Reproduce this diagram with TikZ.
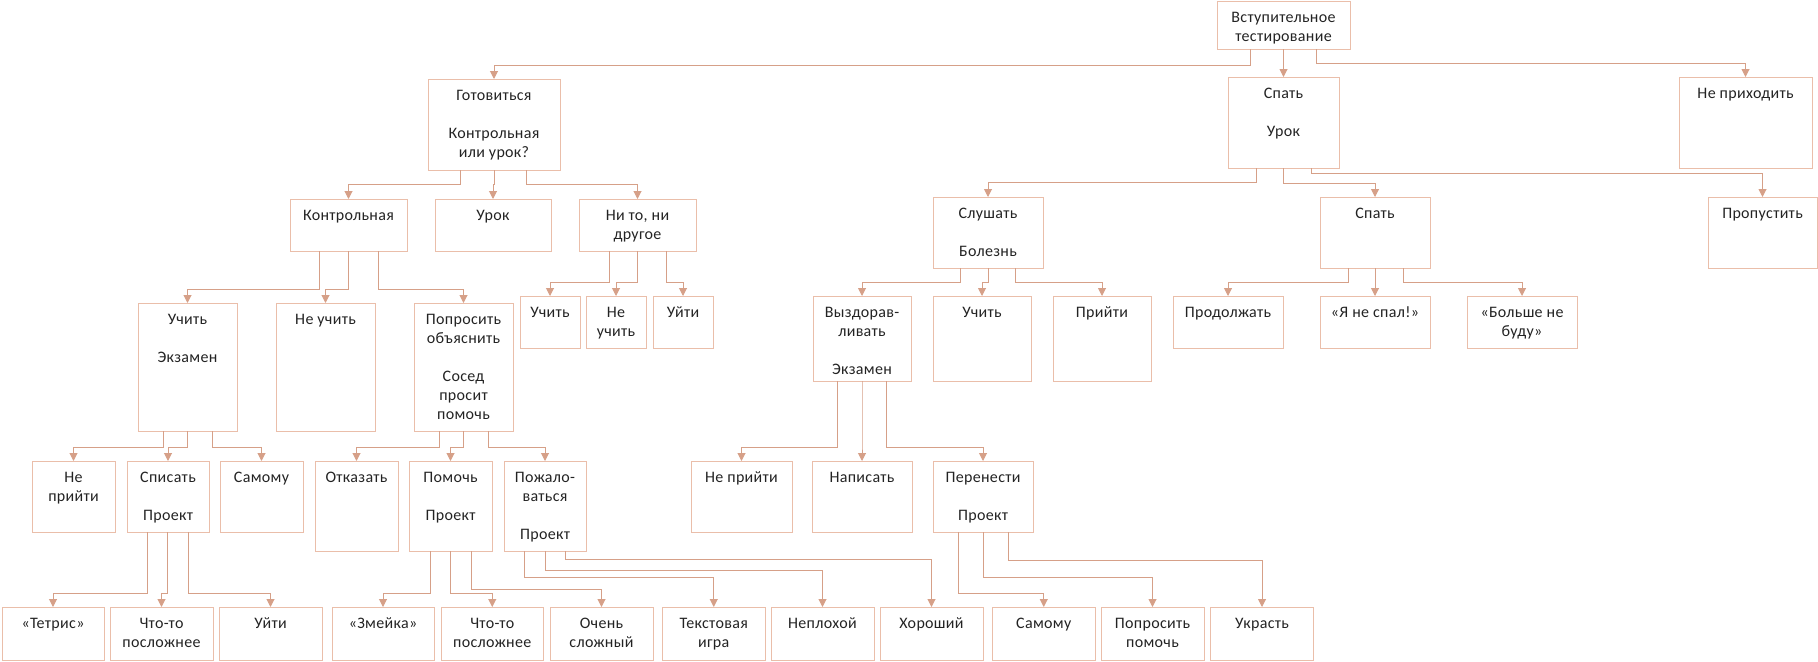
\documentclass[tikz,border=0pt]{standalone}
\usepackage{fontspec}
\setmainfont[LetterSpace=2]{Carlito}
\usetikzlibrary{arrows.meta}

\definecolor{boxcol}{RGB}{234,190,170}
\definecolor{linkcol}{RGB}{214,160,136}
\definecolor{inkcol}{RGB}{35,35,35}

\newcommand\boxfont{\fontsize{12pt}{14.25pt}\selectfont\hyphenpenalty=10000 }
\newcommand\blankln{\\[14.25pt]}

% box: name, left, top, right, bottom (in px), text (top aligned)
\newcommand\bx[6]{%
  \node[box, anchor=north west] (#1) at (#2,#3)
    {\parbox[c][\dimexpr(#5pt-#3pt)*3/4\relax][t]{\dimexpr(#4pt-#2pt)*3/4\relax}%
      {\centering\rule{0pt}{15.9pt}#6\par}};}

% elbow connector: parent, x of the drop, y of the horizontal run, child
\newcommand\link[4]{%
  \path (#2,#3) coordinate (jn);
  \draw[link] (#1.south -| jn) |- (jn -| #4.north) -- (#4.north);}

\tikzset{
  box/.style={draw=boxcol, line width=0.75pt, inner sep=0pt, outer sep=0pt,
    rectangle, font=\boxfont, text=inkcol},
  link/.style={draw=linkcol, line width=0.75pt, line join=miter,
    -{Triangle[width=6pt,length=6pt,fill=linkcol]}},
}

\begin{document}
\begin{tikzpicture}[x=0.75pt, y=-0.75pt]
\useasboundingbox (0,0) rectangle (1818,661);

% level 0
\bx{vt}{1217}{1}{1350}{49}{Вступительное\\тестирование}

% level 1
\bx{gotov}{428}{79}{560}{170}{Готовиться\blankln Контрольная\\или урок?}
\bx{spat1}{1228}{77}{1339}{168}{Спать\blankln Урок}
\bx{nepri}{1679}{77}{1812}{168}{Не приходить}

% level 2
\bx{kontr}{290}{199}{407}{251}{Контрольная}
\bx{urok}{435}{199}{551}{251}{Урок}
\bx{nito}{579}{199}{696}{251}{Ни то, ни\\другое}
\bx{slush}{933}{197}{1043}{268}{Слушать\blankln Болезнь}
\bx{spat2}{1320}{197}{1430}{268}{Спать}
\bx{propu}{1708}{197}{1817}{268}{Пропустить}

% level 3
\bx{uchit}{138}{303}{237}{431}{Учить\blankln Экзамен}
\bx{neuch}{276}{303}{375}{431}{Не учить}
\bx{popro}{414}{303}{513}{431}{Попросить\\объяснить\blankln Сосед\\просит\\помочь}
\bx{uchitb}{520}{296}{580}{348}{Учить}
\bx{neuchb}{586}{296}{646}{348}{Не\\учить}
\bx{uytia}{653}{296}{713}{348}{Уйти}
\bx{vyzd}{813}{296}{911}{381}{Выздорав-\\ливать\blankln Экзамен}
\bx{uchitc}{933}{296}{1031}{381}{Учить}
\bx{priyti}{1053}{296}{1151}{381}{Прийти}
\bx{prodol}{1173}{296}{1283}{348}{Продолжать}
\bx{yanes}{1320}{296}{1430}{348}{«Я не спал!»}
\bx{bolsh}{1467}{296}{1577}{348}{«Больше не\\буду»}

% level 4
\bx{nepra}{32}{461}{115}{532}{Не\\прийти}
\bx{spis}{127}{461}{209}{532}{Списать\blankln Проект}
\bx{samoa}{220}{461}{303}{532}{Самому}
\bx{otka}{315}{461}{398}{551}{Отказать}
\bx{pomo}{409}{461}{492}{551}{Помочь\blankln Проект}
\bx{pozh}{504}{461}{586}{551}{Пожало-\\ваться\blankln Проект}
\bx{neprb}{691}{461}{792}{532}{Не прийти}
\bx{napi}{812}{461}{912}{532}{Написать}
\bx{pere}{933}{461}{1033}{532}{Перенести\blankln Проект}

% level 5
\bx{tetr}{2}{607}{104}{660}{«Тетрис»}
\bx{chtoa}{110}{607}{213}{660}{Что-то\\посложнее}
\bx{uytib}{219}{607}{322}{660}{Уйти}
\bx{zmey}{332}{607}{434}{660}{«Змейка»}
\bx{chtob}{441}{607}{543.5}{660}{Что-то\\посложнее}
\bx{ochen}{550}{607}{653}{660}{Очень\\сложный}
\bx{tekst}{662.5}{607}{765}{660}{Текстовая\\игра}
\bx{nepl}{771}{607}{874}{660}{Неплохой}
\bx{horo}{880}{607}{983}{660}{Хороший}
\bx{samob}{992.5}{607}{1095}{660}{Самому}
\bx{poprb}{1101}{607}{1204}{660}{Попросить\\помочь}
\bx{ukra}{1210.5}{607}{1313.5}{660}{Украсть}

% connectors
\link{vt}{1250.6}{65}{gotov}
\link{vt}{1283.5}{63}{spat1}
\link{vt}{1316.6}{63}{nepri}

\link{gotov}{460}{184}{kontr}
\link{gotov}{494}{184}{urok}
\link{gotov}{526}{184}{nito}

\link{spat1}{1256.5}{182}{slush}
\link{spat1}{1283}{183}{spat2}
\link{spat1}{1311}{173}{propu}

\link{kontr}{319}{289}{uchit}
\link{kontr}{348.6}{289}{neuch}
\link{kontr}{378}{289}{popro}

\link{nito}{609}{282}{uchitb}
\link{nito}{637.5}{282}{neuchb}
\link{nito}{666}{282}{uytia}

\link{slush}{960.5}{282}{vyzd}
\link{slush}{988}{282}{uchitc}
\link{slush}{1015}{282}{priyti}

\link{spat2}{1348}{282}{prodol}
\link{spat2}{1375}{282}{yanes}
\link{spat2}{1403}{282}{bolsh}

\link{uchit}{163}{447}{nepra}
\link{uchit}{187.7}{447}{spis}
\link{uchit}{212}{447}{samoa}

\link{popro}{439}{447}{otka}
\link{popro}{463.6}{447}{pomo}
\link{popro}{488}{447}{pozh}

\link{vyzd}{837.6}{447}{neprb}
\link{vyzd}{862}{447}{napi}
\link{vyzd}{886.6}{447}{pere}

\link{spis}{147}{593}{tetr}
\link{spis}{167.6}{593}{chtoa}
\link{spis}{188}{593}{uytib}

\link{pomo}{430}{593}{zmey}
\link{pomo}{450.6}{593}{chtob}
\link{pomo}{471}{589}{ochen}

\link{pozh}{524}{577}{tekst}
\link{pozh}{545}{570}{nepl}
\link{pozh}{565.6}{559}{horo}

\link{pere}{958}{593}{samob}
\link{pere}{983}{577}{poprb}
\link{pere}{1008}{560}{ukra}
\end{tikzpicture}
\end{document}
